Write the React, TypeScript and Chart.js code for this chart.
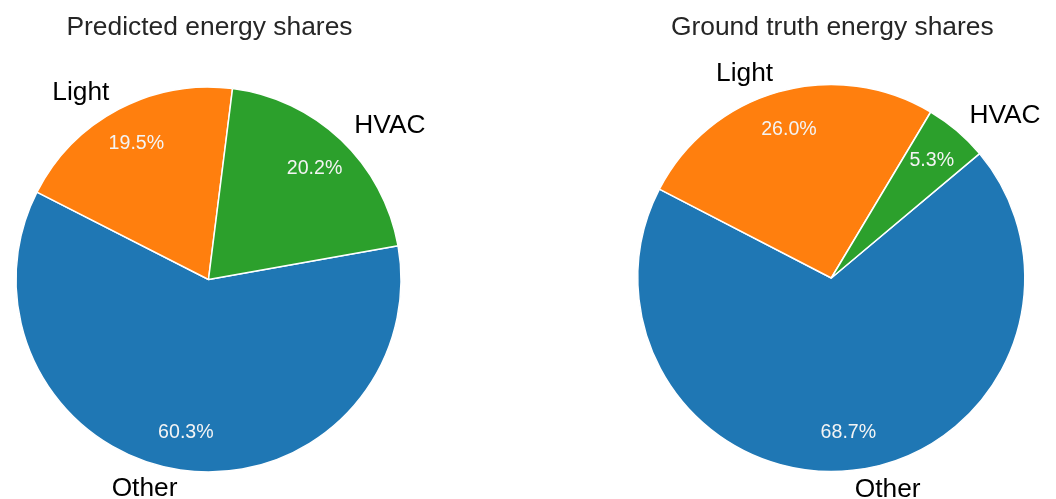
import React, { useEffect, useRef } from "react";
import { Chart, registerables } from "chart.js";

Chart.register(...registerables);

const categories = ["Other", "Light", "HVAC"];
const predictedShares = [60.3, 19.5, 20.2];
const groundTruthShares = [68.7, 26.0, 5.3];
const titles = ["Predicted energy shares", "Ground truth energy shares"];
const sliceColors = ["#1f77b4", "#ff7f0e", "#2ca02c"];

const FONT = "'Liberation Sans', Arial, sans-serif";

function makeLabelPlugin(title: string) {
  return {
    id: "pieLabels",
    afterDraw(chart: any) {
      const ctx = chart.ctx as CanvasRenderingContext2D;
      const meta = chart.getDatasetMeta(0);
      const values = chart.data.datasets[0].data as number[];
      const labels = chart.data.labels as string[];
      const total = values.reduce((a, b) => a + b, 0);
      let cx = 0;
      let cy = 0;
      let r = 0;
      ctx.save();
      meta.data.forEach((arc: any, i: number) => {
        const p = arc.getProps(["x", "y", "startAngle", "endAngle", "outerRadius"], true);
        cx = p.x;
        cy = p.y;
        r = p.outerRadius;
        const mid = (p.startAngle + p.endAngle) / 2;
        const c = Math.cos(mid);
        const s = Math.sin(mid);
        // outer category label
        const lf = 26.3;
        ctx.font = `${lf}px ${FONT}`;
        ctx.fillStyle = "#000000";
        ctx.textAlign = c > 0 ? "left" : "right";
        ctx.textBaseline = "alphabetic";
        ctx.fillText(labels[i], cx + 1.1 * r * c, cy + 1.1 * r * s + 0.28 * lf);
        // percent label
        const pf = 19.6;
        ctx.font = `${pf}px ${FONT}`;
        ctx.fillStyle = "#f4f4f4";
        ctx.textAlign = "center";
        const pct = ((values[i] / total) * 100).toFixed(1) + "%";
        ctx.fillText(pct, cx + 0.8 * r * c, cy + 0.8 * r * s + 0.3 * pf);
      });
      // title
      ctx.font = `26.4px ${FONT}`;
      ctx.fillStyle = "#262626";
      ctx.textAlign = "center";
      ctx.textBaseline = "alphabetic";
      ctx.fillText(title, cx + 1, 35);
      ctx.restore();
    },
  };
}

type PieProps = {
  values: number[];
  title: string;
  width: number;
  left: number;
  rotation: number;
  radius: number;
  padding: { left: number; right: number; top: number; bottom: number };
};

function PieChart({ values, title, width, left, rotation, radius, padding }: PieProps) {
  const ref = useRef<HTMLCanvasElement | null>(null);
  useEffect(() => {
    if (!ref.current) return;
    const chart = new Chart(ref.current, {
      type: "pie",
      data: {
        labels: categories,
        datasets: [
          {
            data: values,
            backgroundColor: sliceColors,
            borderColor: "#ffffff",
            borderWidth: 1.5,
            hoverOffset: 0,
          },
        ],
      },
      options: {
        responsive: false,
        animation: false,
        rotation,
        radius,
        layout: { padding },
        plugins: {
          legend: { display: false },
          tooltip: { enabled: false },
          title: { display: false },
        },
        events: [],
      },
      plugins: [makeLabelPlugin(title)],
    } as any);
    return () => chart.destroy();
  }, []);
  return (
    <canvas
      ref={ref}
      width={width}
      height={499}
      style={{ position: "absolute", left, top: 0, width, height: 499, display: "block" }}
    />
  );
}

export default function App() {
  return (
    <div
      style={{
        position: "fixed",
        left: 0,
        top: 0,
        width: 1056,
        height: 499,
        background: "#ffffff",
        overflow: "hidden",
      }}
    >
      <PieChart
        values={predictedShares}
        title={titles[0]}
        width={520}
        left={0}
        rotation={79.9}
        radius={192.5}
        padding={{ left: 10, right: 113, top: 70, bottom: 10 }}
      />
      <PieChart
        values={groundTruthShares}
        title={titles[1]}
        width={536}
        left={520}
        rotation={50}
        radius={193.5}
        padding={{ left: 96.6, right: 10, top: 67, bottom: 10 }}
      />
    </div>
  );
}
